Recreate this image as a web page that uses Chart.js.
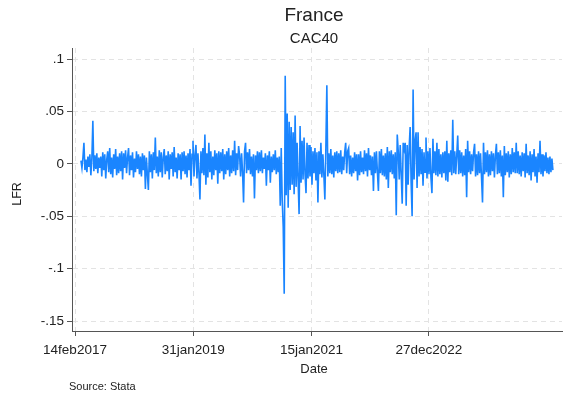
<!DOCTYPE html>
<html>
<head>
<meta charset="utf-8">
<title>France – CAC40</title>
<script src="https://cdn.jsdelivr.net/npm/chart.js@4"></script>
<style>
  html, body { margin: 0; padding: 0; background: #ffffff; }
  #c { display: block; }
</style>
</head>
<body>
<canvas id="c" width="569" height="396"></canvas>
<script>
// Date ticks on the horizontal axis (Stata %td style)
const xTickLabels = ["14feb2017", "31jan2019", "15jan2021", "27dec2022"];

// Vertical axis ticks
const yTickValues = [-0.15, -0.1, -0.05, 0, 0.05, 0.1];
const yTickLabels = ["-.15", "-.1", "-.05", "0", ".05", ".1"];

// Sampling of the series: first observation and spacing in days
const seriesStart = "22mar2017";
const stepDays = 6;

// Log returns of the CAC40 (LFR)
const lfr = [
  .003,-.004,.006,.02,-.006,.004,-.008,.007,-.003,.009,-.011,.005,.041,-.007,.008,-.005,.01,-.009,.006,-.004,
  .007,-.012,.011,-.006,.009,-.014,.004,.012,-.008,.015,-.01,.006,-.013,.009,-.005,.014,-.011,.007,-.009,.01,
  -.007,.012,-.015,.01,-.004,.013,-.009,.006,.015,-.011,.008,-.006,.011,-.013,.005,-.008,.012,-.005,.009,-.01,
  .007,-.012,.01,-.006,.008,-.024,.006,-.01,-.025,.012,-.008,.009,-.014,.011,-.006,.025,-.009,.007,-.012,.013,
  -.008,.011,-.013,.006,.014,-.01,.008,-.007,.012,-.015,.009,-.005,.011,-.012,.016,-.008,.006,-.014,.01,-.006,
  .009,-.015,.011,-.007,.012,-.01,.008,-.013,.01,-.006,.014,-.021,.009,.022,-.012,.008,.018,-.014,.01,-.009,
  -.034,.012,-.009,.015,-.011,.028,-.02,.01,-.013,.02,-.008,.012,-.015,.007,-.011,.013,-.006,.01,-.019,.012,
  -.009,.011,-.007,.014,-.015,.009,-.01,.012,-.006,.015,-.012,.008,-.009,.013,-.007,.022,-.011,.01,-.006,.017,
  .008,-.012,.01,-.008,-.037,.012,.02,-.009,.011,-.006,.014,-.01,.007,-.012,.009,-.033,.008,-.006,.012,-.009,
  .011,-.007,.013,-.009,.006,-.005,.01,-.021,.008,-.006,.012,-.018,.007,-.008,.009,-.006,.013,-.01,.006,-.008,
  .007,-.04,.015,-.035,-.06,-.124,.084,-.03,.048,-.042,.04,-.025,.035,-.02,.03,-.029,.046,-.022,.02,-.015,
  -.048,.036,-.018,.022,-.015,.025,-.01,-.028,.02,-.014,.018,-.012,.016,-.02,.012,-.009,.015,-.016,.011,-.037,
  .012,-.01,.02,-.013,.009,-.011,-.034,.015,.075,-.012,.01,-.009,.014,-.01,.008,-.013,.011,-.007,.012,-.009,
  .01,-.008,.013,-.01,.007,-.006,.011,.02,-.009,.012,.015,-.01,.008,-.012,.006,-.009,.011,-.007,.009,-.016,
  .009,-.011,.012,-.008,.006,-.01,.013,-.007,.01,-.012,.015,-.006,.008,-.011,.007,-.026,.011,-.009,.012,-.008,
  -.026,.012,-.009,.014,-.011,.008,-.012,.01,-.015,.016,-.023,.012,-.008,.013,-.01,.009,-.014,.011,-.049,.028,
  .012,-.015,.018,-.01,-.038,.02,.014,.02,-.04,.018,-.02,.015,.035,-.018,-.05,.071,-.015,.022,.03,-.023,
  .03,-.012,.016,-.01,.014,-.021,.011,-.008,.025,-.014,.012,-.01,.015,-.013,-.028,.024,-.009,.012,-.011,.02,
  -.012,.014,-.01,.009,-.013,.011,-.009,.012,-.016,.022,-.017,.01,-.008,.013,-.011,.042,-.009,.012,-.01,.008,
  .027,-.01,.013,-.009,.011,-.012,.008,-.011,.014,-.032,.022,-.008,.012,-.01,.009,-.007,.011,.019,-.012,.009,
  -.011,.012,-.009,.01,-.013,-.037,.02,-.01,.011,-.008,.013,-.012,.009,-.011,.012,-.007,.01,-.013,.008,.019,
  -.01,.011,-.009,.013,-.012,.008,-.032,.017,-.011,.01,-.008,.012,-.013,.009,-.01,.015,-.008,.011,-.009,.02,
  -.009,.012,-.01,.008,-.012,.011,-.007,.01,-.013,.019,-.009,.008,-.011,.012,-.016,.009,-.008,.014,-.012,.007,
  -.018,.01,-.008,.022,-.01,.009,-.012,.008,-.007,.011,-.009,.006,-.01,.007,-.008,.005,-.006
];

// --- helpers -------------------------------------------------------------
const MONTHS = ["jan","feb","mar","apr","may","jun","jul","aug","sep","oct","nov","dec"];
function parseTd(s) {
  const yr = parseInt(s.slice(-4), 10);
  const mon = MONTHS.indexOf(s.slice(-7, -4));
  const day = parseInt(s.slice(0, -7), 10);
  return Date.UTC(yr, mon, day);
}
const origin = parseTd(xTickLabels[0]);
const toDays = s => Math.round((parseTd(s) - origin) / 86400000);
const xTickValues = xTickLabels.map(toDays);
const firstDay = toDays(seriesStart);

const points = lfr.map((v, i) => ({ x: firstDay + i * stepDays, y: v }));

const FONT = "'Liberation Sans', Arial, Helvetica, sans-serif";
const TEXT = "#222222";
const AXIS = "#555555";
const GRID = "#e3e3e3";

// Titles, axis titles and note drawn on the canvas
const textPlugin = {
  id: "stataText",
  afterDraw(chart) {
    const ctx = chart.ctx;
    ctx.save();
    ctx.fillStyle = TEXT;
    ctx.textBaseline = "middle";
    ctx.textAlign = "center";
    ctx.font = "19px " + FONT;
    ctx.fillText("France", 314, 16);
    ctx.font = "15px " + FONT;
    ctx.fillText("CAC40", 314, 39);
    ctx.font = "13px " + FONT;
    ctx.fillText("Date", 314, 369);
    ctx.save();
    ctx.translate(18, 194);
    ctx.rotate(-Math.PI / 2);
    ctx.font = "12.5px " + FONT;
    ctx.fillText("LFR", 0, 0);
    ctx.restore();
    ctx.textAlign = "left";
    ctx.font = "11px " + FONT;
    ctx.fillText("Source: Stata", 69, 387);
    ctx.restore();
  }
};

new Chart(document.getElementById("c"), {
  type: "line",
  data: {
    datasets: [{
      data: points,
      borderColor: "#1a85ff",
      borderWidth: 1.6,
      pointRadius: 0,
      tension: 0,
      fill: false
    }]
  },
  options: {
    responsive: false,
    animation: false,
    devicePixelRatio: 1,
    parsing: false,
    normalized: true,
    layout: { padding: { top: 48, right: 7, left: 0, bottom: 0 } },
    plugins: { legend: { display: false }, tooltip: { enabled: false }, title: { display: false } },
    scales: {
      x: {
        type: "linear",
        min: -18.2,
        max: 2947,
        afterBuildTicks: s => { s.ticks = xTickValues.map(v => ({ value: v })); },
        afterFit: s => { s.height = 65; },
        ticks: {
          autoSkip: false,
          maxRotation: 0,
          minRotation: 0,
          padding: 6,
          color: TEXT,
          font: { family: FONT, size: 13.5 },
          callback: (v, i) => xTickLabels[i]
        },
        grid: { color: GRID, lineWidth: 1, drawTicks: true, tickLength: 5, tickColor: AXIS, tickWidth: 1, tickBorderDash: [] },
        border: { display: true, color: AXIS, width: 1, dash: [5, 4] }
      },
      y: {
        type: "linear",
        min: -0.15954,
        max: 0.1105,
        afterBuildTicks: s => { s.ticks = yTickValues.map(v => ({ value: v })); },
        afterFit: s => { s.width = 72; },
        ticks: {
          padding: 3,
          color: TEXT,
          font: { family: FONT, size: 13.5 },
          callback: (v, i) => yTickLabels[i]
        },
        grid: { color: GRID, lineWidth: 1, drawTicks: true, tickLength: 5, tickColor: AXIS, tickWidth: 1, tickBorderDash: [] },
        border: { display: true, color: AXIS, width: 1, dash: [5, 4] }
      }
    }
  },
  plugins: [textPlugin]
});
</script>
</body>
</html>
